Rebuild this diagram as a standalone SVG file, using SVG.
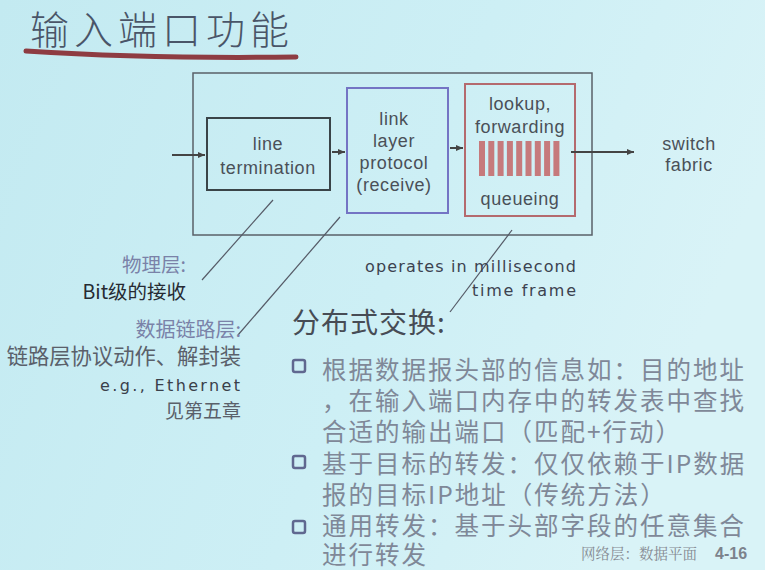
<svg xmlns="http://www.w3.org/2000/svg" width="765" height="570" viewBox="0 0 765 570">
  <defs>
    <linearGradient id="bg" x1="0" y1="0" x2="1" y2="0.3">
      <stop offset="0" stop-color="#c3eaf1"/>
      <stop offset="0.6" stop-color="#cdeff5"/>
      <stop offset="1" stop-color="#d9f3f7"/>
    </linearGradient>
    <marker id="arr" markerWidth="8" markerHeight="8" refX="7" refY="4" orient="auto" markerUnits="userSpaceOnUse">
      <path d="M0,1 L7,4 L0,7 Z" fill="#444"/>
    </marker>
    <style>
      .lbl { font-family: "Liberation Sans", Arial, sans-serif; font-size: 18px; letter-spacing: 0.6px; fill: #4a5058; text-anchor: middle; }
      .note { font-family: "DejaVu Sans", "Noto Sans CJK SC", sans-serif; font-size: 16px; }
      .cjk { font-family: "Noto Sans CJK SC", sans-serif; }
      .bul { font-family: "Noto Sans CJK SC", sans-serif; font-size: 24.5px; letter-spacing: 2px; fill: #7f8898; }
      .lead { fill: none; stroke: #555a66; stroke-width: 1.2; }
      .edge { fill: none; stroke: #444; stroke-width: 2; marker-end: url(#arr); }
      .box { fill: none; stroke-width: 2; }
      .chk { fill: none; stroke: #606890; stroke-width: 2.5; }
    </style>
  </defs>

  <rect width="765" height="570" fill="url(#bg)"/>

  <!-- title -->
  <g id="title">
    <text x="30" y="44" class="cjk" font-size="39" font-weight="300" fill="#4a5568" letter-spacing="5">输入端口功能</text>
    <path d="M26,51 Q150,59 296,57" fill="none" stroke="#8e3c42" stroke-width="5" stroke-linecap="round"/>
  </g>

  <!-- input port enclosure -->
  <g id="port">
    <rect x="193" y="73" width="399" height="162" fill="none" stroke="#5a6068" stroke-width="1.5"/>
  </g>

  <g id="line-termination">
    <rect x="207" y="118" width="123" height="72" class="box" stroke="#3a4448"/>
    <text x="268" y="150" class="lbl">line</text>
    <text x="268" y="174" class="lbl">termination</text>
  </g>

  <g id="link-layer">
    <rect x="347" y="88" width="101" height="125" class="box" stroke="#7474c4"/>
    <text x="394" y="125" class="lbl">link</text>
    <text x="394" y="147" class="lbl">layer</text>
    <text x="394" y="169" class="lbl">protocol</text>
    <text x="394" y="191" class="lbl">(receive)</text>
  </g>

  <g id="lookup">
    <rect x="465" y="84" width="110" height="132" class="box" stroke="#b46a6e"/>
    <text x="520" y="110" class="lbl">lookup,</text>
    <text x="520" y="133" class="lbl">forwarding</text>
    <g fill="#c67a7c">
      <rect x="479" y="141" width="6" height="35"/>
      <rect x="488.3" y="141" width="6" height="35"/>
      <rect x="497.6" y="141" width="6" height="35"/>
      <rect x="506.9" y="141" width="6" height="35"/>
      <rect x="516.2" y="141" width="6" height="35"/>
      <rect x="525.5" y="141" width="6" height="35"/>
      <rect x="534.8" y="141" width="6" height="35"/>
      <rect x="544.1" y="141" width="6" height="35"/>
      <rect x="553.4" y="141" width="6" height="35"/>
    </g>
    <text x="520" y="205" class="lbl">queueing</text>
  </g>

  <g id="switch-fabric">
    <text x="689" y="150" class="lbl">switch</text>
    <text x="689" y="171" class="lbl">fabric</text>
  </g>

  <!-- connectors -->
  <g id="connectors">
    <line x1="172" y1="155" x2="205" y2="155" class="edge"/>
    <line x1="332" y1="152" x2="345" y2="152" class="edge"/>
    <line x1="450" y1="148" x2="463" y2="148" class="edge"/>
    <line x1="571" y1="152" x2="634" y2="152" class="edge"/>
    <line x1="273" y1="200" x2="202" y2="280" class="lead"/>
    <line x1="340" y1="217" x2="238" y2="335" class="lead"/>
    <line x1="512" y1="230" x2="450" y2="312" class="lead"/>
  </g>

  <!-- annotations -->
  <g id="notes">
    <text x="365" y="272" class="note" fill="#3c4250" textLength="211" lengthAdjust="spacing">operates in millisecond</text>
    <text x="472" y="296" class="note" fill="#3c4250" textLength="104" lengthAdjust="spacing">time frame</text>

    <text x="186" y="272" class="cjk" font-size="19.5" fill="#7a82a8" text-anchor="end">物理层:</text>
    <text x="186" y="299" class="cjk" font-size="19.5" fill="#262a32" text-anchor="end">Bit级的接收</text>
    <text x="241" y="337" class="cjk" font-size="20" fill="#7a82a8" text-anchor="end">数据链路层:</text>
    <text x="241" y="364" class="cjk" font-size="21.3" fill="#5a606a" text-anchor="end">链路层协议动作、解封装</text>
    <text x="100" y="391" class="note" font-size="18" fill="#3a404a" textLength="140" lengthAdjust="spacing">e.g., Ethernet</text>
    <text x="241" y="418" class="cjk" font-size="19" fill="#5a606a" text-anchor="end">见第五章</text>
  </g>

  <!-- distributed switching text -->
  <g id="distributed">
    <text x="292" y="333" class="cjk" font-size="28" fill="#474c55" letter-spacing="1">分布式交换:</text>

    <rect x="293" y="360" width="12" height="12" rx="2" class="chk"/>
    <text x="322" y="379" class="bul">根据数据报头部的信息如：目的地址</text>
    <text x="322" y="410" class="bul">，在输入端口内存中的转发表中查找</text>
    <text x="322" y="441" class="bul">合适的输出端口（匹配+行动）</text>

    <rect x="293" y="456" width="12" height="12" rx="2" class="chk"/>
    <text x="322" y="473" class="bul">基于目标的转发：仅仅依赖于IP数据</text>
    <text x="322" y="504" class="bul">报的目标IP地址（传统方法）</text>

    <rect x="293" y="521" width="12" height="12" rx="2" class="chk"/>
    <text x="322" y="535" class="bul">通用转发：基于头部字段的任意集合</text>
    <text x="322" y="564" class="bul">进行转发</text>
  </g>

  <!-- footer -->
  <g id="footer">
    <text x="581" y="559" font-family="'Noto Serif CJK SC', 'Noto Sans CJK SC', serif" font-size="14.5" fill="#858a92">网络层：数据平面</text>
    <text x="715" y="559" font-family="'Liberation Sans', Arial, sans-serif" font-size="16" font-weight="bold" fill="#7c828c">4-16</text>
  </g>
</svg>
